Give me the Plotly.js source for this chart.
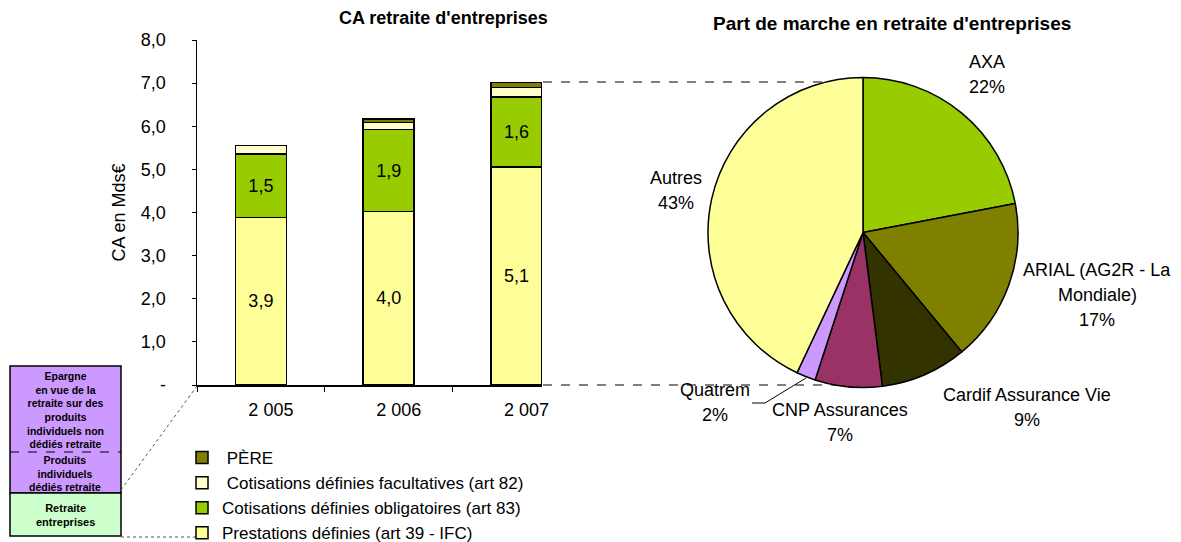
<!DOCTYPE html>
<html><head><meta charset="utf-8">
<script src="https://cdn.plot.ly/plotly-3.0.1.min.js"></script>
<style>html,body{margin:0;padding:0;background:#fff;overflow:hidden}#chart{width:1181px;height:542px}</style>
</head><body><div id="chart"></div>
<script>
// ---- data ----
const years = ['2 005', '2 006', '2 007'];
const prestations = [3.88, 4.02, 5.06];
const obligatoires = [1.48, 1.90, 1.62];
const facultatives = [0.19, 0.17, 0.22];
const pere = [null, 0.08, 0.12];
const seriesNames = ['Prestations définies (art 39 - IFC)', 'Cotisations définies obligatoires (art 83)', '\u00a0Cotisations définies facultatives (art 82)', '\u00a0PÈRE'];
const yTickVals = [0, 1, 2, 3, 4, 5, 6, 7, 8];
const yTickText = ['-', '1,0', '2,0', '3,0', '4,0', '5,0', '6,0', '7,0', '8,0'];
const pieLabels = ['AXA', 'ARIAL (AG2R - La<br>Mondiale)', 'Cardif Assurance Vie', 'CNP Assurances', 'Quatrem', 'Autres'];
const pieValues = [22, 17, 9, 7, 2, 43];
const boxTop = ['Epargne', 'en vue de la', 'retraite sur des', 'produits', 'individuels non', 'dédiés retraite'];
const boxMid = ['Produits', 'individuels', 'dédiés retraite'];
const boxBot = ['Retraite', 'entreprises'];

// ---- helpers ----
const W = 1181, H = 542;
const px = x => x / W;
const py = y => (H - y) / H;
const FONT = 'Liberation Sans, Arial, sans-serif';

const barColors = ['#FFFF99', '#99CC00', '#FFFFCC', '#808000'];
const pieColors = ['#99CC00', '#808000', '#333300', '#993366', '#CC99FF', '#FFFF99'];
const barSeries = [prestations, obligatoires, facultatives, pere];

const traces = barSeries.map((vals, i) => ({
  type: 'bar', x: years, y: vals, name: seriesNames[i],
  marker: {color: barColors[i], line: {color: '#000', width: 1.5}},
  width: 0.4,
  text: i < 2 ? vals.map(v => v.toFixed(1).replace('.', ',')) : undefined,
  textposition: i < 2 ? 'inside' : 'none',
  insidetextanchor: 'middle',
  textfont: {family: FONT, size: 18, color: '#000'},
  constraintext: 'none',
  hoverinfo: 'skip', xaxis: 'x', yaxis: 'y'
}));

traces.push({
  type: 'pie', labels: pieLabels, values: pieValues, sort: false,
  direction: 'clockwise', rotation: 0, textinfo: 'none',
  marker: {colors: pieColors, line: {color: '#000', width: 1.5}},
  domain: {x: [px(708), px(1018)], y: [py(388), py(77)]},
  showlegend: false, hoverinfo: 'skip'
});

// pie label annotations (one per line)
const labelPos = [[987, 62], [1097, 270], [1027, 395], [840, 410], [715, 390], [676, 178]];
const annotations = [];
pieLabels.forEach((lab, i) => {
  const lines = lab.split('<br>').concat([pieValues[i] + '%']);
  lines.forEach((ln, k) => annotations.push({
    xref: 'paper', yref: 'paper', x: px(labelPos[i][0]), y: py(labelPos[i][1] + 25 * k),
    text: ln, showarrow: false, xanchor: 'center', yanchor: 'middle',
    font: {family: FONT, size: 18, color: '#000'}
  }));
});

// titles
annotations.push({xref: 'paper', yref: 'paper', x: px(443), y: py(18), text: "<b>CA retraite d'entreprises</b>",
  showarrow: false, xanchor: 'center', yanchor: 'middle', font: {family: FONT, size: 18, color: '#000'}});
annotations.push({xref: 'paper', yref: 'paper', x: px(892), y: py(24), text: "<b>Part de marche en retraite d'entreprises</b>",
  showarrow: false, xanchor: 'center', yanchor: 'middle', font: {family: FONT, size: 19, color: '#000'}});

// left box text (one multi-line block per zone)
const addBlock = (arr, yc, size) => annotations.push({
  xref: 'paper', yref: 'paper', x: px(65), y: py(yc), text: '<b>' + arr.join('<br>') + '</b>',
  showarrow: false, xanchor: 'center', yanchor: 'middle', align: 'center',
  font: {family: FONT, size: size, color: '#000'}});
addBlock(boxTop, 410, 10.5);
addBlock(boxMid, 473, 10.5);
addBlock(boxBot, 515, 11);

const shapes = [
  {type: 'rect', xref: 'paper', yref: 'paper', x0: px(10), x1: px(121), y0: py(493), y1: py(366), fillcolor: '#CC99FF', line: {color: '#000', width: 1.5}},
  {type: 'rect', xref: 'paper', yref: 'paper', x0: px(10), x1: px(121), y0: py(536), y1: py(493), fillcolor: '#CCFFCC', line: {color: '#000', width: 1.5}},
  {type: 'line', xref: 'paper', yref: 'paper', x0: px(10), x1: px(121), y0: py(452), y1: py(452), line: {color: '#000', width: 1, dash: 'dash'}},
  {type: 'line', xref: 'paper', yref: 'paper', x0: px(121), x1: px(197), y0: py(490), y1: py(386), line: {color: '#555', width: 1, dash: 'dot'}},
  {type: 'line', xref: 'paper', yref: 'paper', x0: px(121), x1: px(200), y0: py(537), y1: py(537), line: {color: '#555', width: 1, dash: 'dot'}},
  {type: 'line', xref: 'paper', yref: 'paper', layer: 'below', x0: px(543), x1: px(863), y0: py(82), y1: py(82), line: {color: '#000', width: 1, dash: 'dash'}},
  {type: 'line', xref: 'paper', yref: 'paper', layer: 'below', x0: px(543), x1: px(863), y0: py(385), y1: py(385), line: {color: '#000', width: 1, dash: 'dash'}},
  {type: 'path', xref: 'paper', yref: 'paper', path: `M ${px(752)} ${py(403)} L ${px(765)} ${py(403)} L ${px(806)} ${py(378)}`, line: {color: '#000', width: 1}}
];

const layout = {
  width: W, height: H, margin: {l: 0, r: 0, t: 0, b: 0, pad: 0, autoexpand: false}, autosize: false,
  paper_bgcolor: '#fff', plot_bgcolor: 'rgba(0,0,0,0)',
  barmode: 'stack', bargap: 0.6,
  font: {family: FONT, color: '#000'},
  xaxis: {type: 'category', domain: [px(197), px(542)], range: [-0.5, 2.2], showline: true, linecolor: '#000', linewidth: 1.5,
    ticks: 'outside', tickson: 'boundaries', ticklen: 5, tickcolor: '#000', tickwidth: 1,
    tickfont: {family: FONT, size: 18}, ticklabelstandoff: 8, ticklabelshift: 10, showgrid: false, zeroline: false, automargin: false, fixedrange: true},
  yaxis: {domain: [py(385), py(40)], range: [0, 8], tickvals: yTickVals, ticktext: yTickText,
    showline: true, linecolor: '#000', linewidth: 1.5, ticks: 'outside', ticklen: 4, tickcolor: '#000',
    tickfont: {family: FONT, size: 18}, ticklabelstandoff: 22, showgrid: false, zeroline: false, automargin: false,
    title: {text: 'CA en Mds€', font: {family: FONT, size: 18}, standoff: 10}, fixedrange: true},
  legend: {x: px(182), y: py(440), xanchor: 'left', yanchor: 'top', traceorder: 'reversed',
    font: {family: FONT, size: 17, color: '#000'}, bgcolor: 'rgba(0,0,0,0)', itemclick: false},
  annotations: annotations, shapes: shapes
};

Plotly.newPlot('chart', traces, layout, {staticPlot: true, displayModeBar: false});
</script></body></html>
